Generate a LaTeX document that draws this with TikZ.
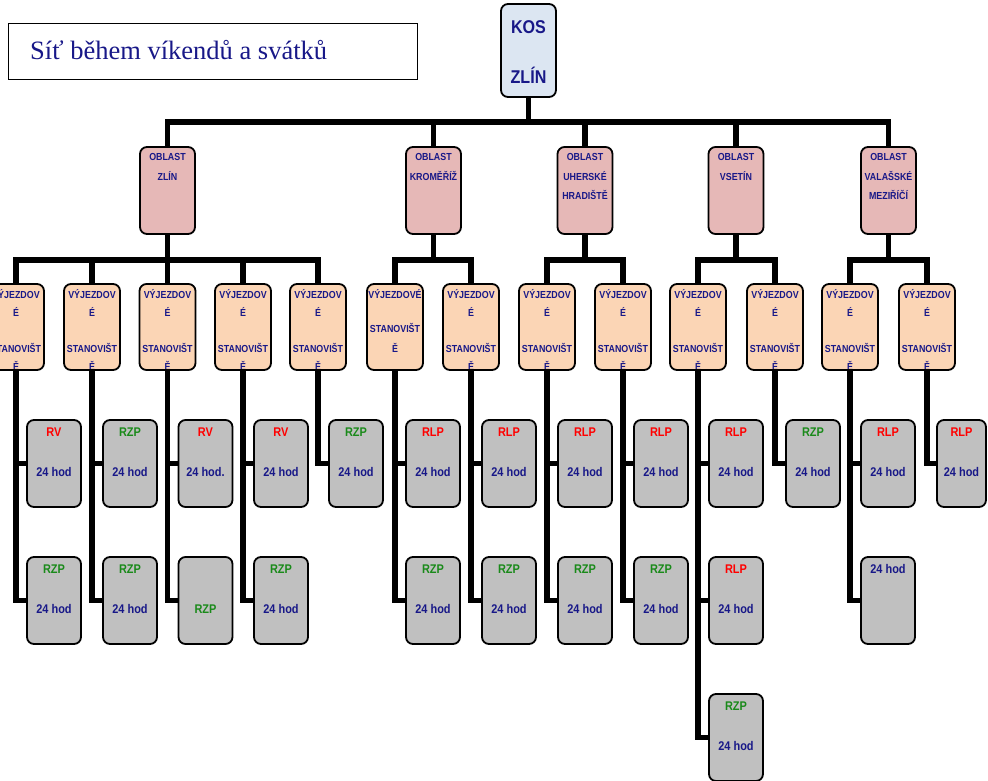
\documentclass[tikz,border=0pt]{standalone}
\usepackage{fontspec}
\usetikzlibrary{backgrounds}
\newfontfamily\arn[FakeStretch=0.87]{Liberation Sans}
\newfontfamily\tms{Liberation Serif}
\definecolor{nv}{HTML}{181888}
\definecolor{rd}{HTML}{FF0000}
\definecolor{gr}{HTML}{1A8A1A}
\definecolor{kosfill}{HTML}{DCE6F2}
\definecolor{ofill}{HTML}{E6B8B7}
\definecolor{sfill}{HTML}{FBD5B5}
\definecolor{ufill}{HTML}{C0C0C0}
\newcommand\boxline[3]{\node[anchor=base,inner sep=0pt,draw=none,fill=none,minimum width=0pt,minimum height=0pt,#2] at ([yshift=-#1pt]path picture bounding box.north) {#3};}
\tikzset{
  bx/.style={draw=black,line width=1.8pt,rounded corners=7pt,inner sep=0pt},
  kostxt/.style={font=\arn\bfseries\fontsize{18.5}{20}\selectfont,text=nv},
  otxt/.style={font=\arn\bfseries\fontsize{10.2}{12}\selectfont,text=nv},
  stxt/.style={font=\arn\bfseries\fontsize{10.2}{12}\selectfont,text=nv},
  utxt/.style={font=\arn\bfseries\fontsize{12.6}{14}\selectfont},
  kosbox/.style={bx,fill=kosfill,minimum width=55pt,minimum height=93pt,
    path picture={\boxline{29}{kostxt}{KOS}\boxline{79}{kostxt}{ZLÍN}}},
  obl/.style n args={3}{bx,fill=ofill,minimum width=55pt,minimum height=87pt,
    path picture={\boxline{13}{otxt}{#1}\boxline{33}{otxt}{#2}\boxline{52.5}{otxt}{#3}}},
  sta/.style={bx,fill=sfill,minimum width=56pt,minimum height=86pt,
    path picture={\boxline{14}{stxt}{VÝJEZDOV}\boxline{32}{stxt}{É}\boxline{68}{stxt}{STANOVIŠT}\boxline{86}{stxt}{Ě}}},
  staB/.style={bx,fill=sfill,minimum width=56pt,minimum height=86pt,
    path picture={\boxline{14}{stxt}{VÝJEZDOVÉ}\boxline{48}{stxt}{STANOVIŠT}\boxline{68}{stxt}{Ě}}},
  unitbox/.style n args={4}{bx,fill=ufill,minimum width=54pt,minimum height=87pt,
    path picture={\boxline{16}{utxt,text=#1}{#2}\boxline{56}{utxt,text=#3}{#4}}},
  conn/.style={line width=5.5pt,line join=miter},
}
\begin{document}
\begin{tikzpicture}[x=1pt,y=-1pt]
\useasboundingbox (0,0) rectangle (988,780);
% title
\node[draw=black,line width=1.5pt,minimum width=409pt,minimum height=56pt,inner sep=0pt,
  path picture={\node[anchor=base west,inner sep=0pt,draw=none,minimum width=0pt,minimum height=0pt,font=\tms\fontsize{26.5}{30}\selectfont,text=nv] at ([xshift=21pt,yshift=-35.5pt]path picture bounding box.north west) {Síť během víkendů a svátků};}]
  (title) at (213,51.5) {};
% top
\node[kosbox] (kos) at (528.5,50.5) {};
% oblasti
\node[obl={OBLAST}{ZLÍN}{}] (o1) at (167.5,190.5) {};
\node[obl={OBLAST}{KROMĚŘÍŽ}{}] (o2) at (433.5,190.5) {};
\node[obl={OBLAST}{UHERSKÉ}{HRADIŠTĚ}] (o3) at (585,190.5) {};
\node[obl={OBLAST}{VSETÍN}{}] (o4) at (736,190.5) {};
\node[obl={OBLAST}{VALAŠSKÉ}{MEZIŘÍČÍ}] (o5) at (888.5,190.5) {};
% stanoviste
\node[sta] (s1) at (16,327) {};
\node[sta] (s2) at (92,327) {};
\node[sta] (s3) at (167.5,327) {};
\node[sta] (s4) at (243,327) {};
\node[sta] (s5) at (318,327) {};
\node[staB] (s6) at (395,327) {};
\node[sta] (s7) at (471,327) {};
\node[sta] (s8) at (547,327) {};
\node[sta] (s9) at (623,327) {};
\node[sta] (s10) at (698,327) {};
\node[sta] (s11) at (775,327) {};
\node[sta] (s12) at (850,327) {};
\node[sta] (s13) at (927,327) {};
% units row 1
\node[unitbox={rd}{RV}{nv}{24 hod}] (u1a) at (54,463.5) {};
\node[unitbox={gr}{RZP}{nv}{24 hod}] (u2a) at (130,463.5) {};
\node[unitbox={rd}{RV}{nv}{24 hod.}] (u3a) at (205.5,463.5) {};
\node[unitbox={rd}{RV}{nv}{24 hod}] (u4a) at (281,463.5) {};
\node[unitbox={gr}{RZP}{nv}{24 hod}] (u5a) at (356,463.5) {};
\node[unitbox={rd}{RLP}{nv}{24 hod}] (u6a) at (433,463.5) {};
\node[unitbox={rd}{RLP}{nv}{24 hod}] (u7a) at (509,463.5) {};
\node[unitbox={rd}{RLP}{nv}{24 hod}] (u8a) at (585,463.5) {};
\node[unitbox={rd}{RLP}{nv}{24 hod}] (u9a) at (661,463.5) {};
\node[unitbox={rd}{RLP}{nv}{24 hod}] (u10a) at (736,463.5) {};
\node[unitbox={gr}{RZP}{nv}{24 hod}] (u11a) at (813,463.5) {};
\node[unitbox={rd}{RLP}{nv}{24 hod}] (u12a) at (888,463.5) {};
\node[unitbox={rd}{RLP}{nv}{24 hod},minimum width=49pt] (u13a) at (961.5,463.5) {};
% units row 2
\node[unitbox={gr}{RZP}{nv}{24 hod}] (u1b) at (54,600.5) {};
\node[unitbox={gr}{RZP}{nv}{24 hod}] (u2b) at (130,600.5) {};
\node[unitbox={nv}{}{gr}{RZP}] (u3b) at (205.5,600.5) {};
\node[unitbox={gr}{RZP}{nv}{24 hod}] (u4b) at (281,600.5) {};
\node[unitbox={gr}{RZP}{nv}{24 hod}] (u6b) at (433,600.5) {};
\node[unitbox={gr}{RZP}{nv}{24 hod}] (u7b) at (509,600.5) {};
\node[unitbox={gr}{RZP}{nv}{24 hod}] (u8b) at (585,600.5) {};
\node[unitbox={gr}{RZP}{nv}{24 hod}] (u9b) at (661,600.5) {};
\node[unitbox={rd}{RLP}{nv}{24 hod}] (u10b) at (736,600.5) {};
\node[unitbox={nv}{24 hod}{nv}{}] (u12b) at (888,600.5) {};
% units row 3
\node[unitbox={gr}{RZP}{nv}{24 hod}] (u10c) at (736,737.5) {};
% connectors
\begin{scope}[on background layer]
\foreach \o in {o1,o2,o3,o4,o5} \draw[conn] (kos.south) -- ++(0,24) -| (\o.north);
\foreach \s in {s1,s2,s3,s4,s5} \draw[conn] (o1.south) -- ++(0,25) -| (\s.north);
\foreach \s in {s6,s7} \draw[conn] (o2.south) -- ++(0,25) -| (\s.north);
\foreach \s in {s8,s9} \draw[conn] (o3.south) -- ++(0,25) -| (\s.north);
\foreach \s in {s10,s11} \draw[conn] (o4.south) -- ++(0,25) -| (\s.north);
\foreach \s in {s12,s13} \draw[conn] (o5.south) -- ++(0,25) -| (\s.north);
\foreach \s/\u in {s1/u1a,s1/u1b,s2/u2a,s2/u2b,s3/u3a,s3/u3b,s4/u4a,s4/u4b,s5/u5a,
  s6/u6a,s6/u6b,s7/u7a,s7/u7b,s8/u8a,s8/u8b,s9/u9a,s9/u9b,s10/u10a,s10/u10b,s10/u10c,
  s11/u11a,s12/u12a,s12/u12b,s13/u13a}
  \draw[conn] (\s.south) |- (\u.west);
\end{scope}
\end{tikzpicture}
\end{document}
